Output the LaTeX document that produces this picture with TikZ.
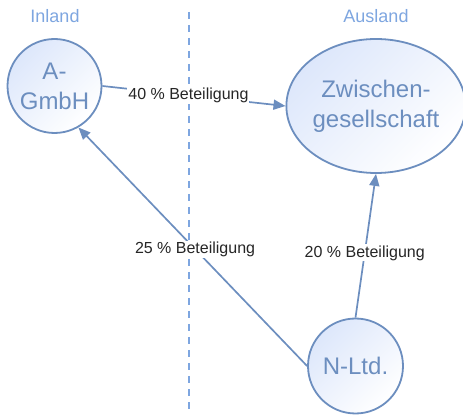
\documentclass[tikz,border=0pt]{standalone}
\usepackage{fontspec}
\setmainfont{Liberation Sans}
\usetikzlibrary{arrows.meta,shapes.geometric}
\definecolor{linieblau}{HTML}{6C8EBF}
\definecolor{hellblau}{HTML}{7EA6E0}
\definecolor{fuellblau}{HTML}{DDE7FB}
\begin{document}
\begin{tikzpicture}[x=1pt,y=-1pt,
    firma/.style={draw=linieblau, line width=1.8pt, text=linieblau, align=center, inner sep=0pt,
      top color=fuellblau, bottom color=white, shading angle=45, font=\fontsize{24}{30}\selectfont},
    seite/.style={text=hellblau, font=\fontsize{18}{22}\selectfont},
    anteil/.style={draw=linieblau, line width=1.7pt, -{Triangle[length=12pt,width=10pt]}},
    quote/.style={fill=white, inner sep=1pt, text=black!85, font=\fontsize{16}{19}\selectfont}]
  \useasboundingbox (0,0) rectangle (463,419);
  % Grenze Inland / Ausland
  \draw[hellblau, line width=2.3pt, dash pattern=on 7pt off 6pt] (189,12) -- (189,414);
  \node[seite] (inland) at (55,16) {Inland};
  \node[seite] (ausland) at (376,16) {Ausland};
  % Gesellschaften
  \node[firma, circle, minimum size=94pt] (agmbh) at (54.5,86) {A-\\GmbH};
  \node[firma, ellipse, minimum width=162pt, minimum height=134pt] (zwischen) at (376,106) {Zwischen-\\gesellschaft};
  \node[firma, circle, minimum size=95pt] (nltd) at (355.5,366) {N-Ltd.};
  % Beteiligungen
  \draw[anteil] (agmbh.east) -- (zwischen.west) node[quote, pos=0.47] {40 \% Beteiligung};
  \draw[anteil] (nltd.west) -- (agmbh.-60) node[quote, pos=0.49] {25 \% Beteiligung};
  \draw[anteil] (nltd.north) -- (zwischen.south) node[quote, pos=0.45] {20 \% Beteiligung};
\end{tikzpicture}
\end{document}
